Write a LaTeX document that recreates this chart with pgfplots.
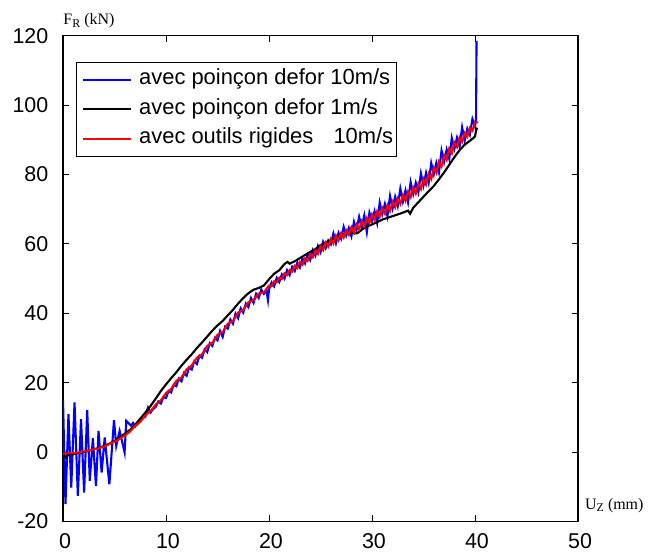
\documentclass[border=0pt]{standalone}
\usepackage{fontspec}
\setmainfont{Liberation Sans}
\newfontfamily\serifl{Liberation Serif}
\usepackage{pgfplots}
\pgfplotsset{compat=1.18}
\begin{document}
\begin{tikzpicture}
\begin{axis}[
  at={(0,0)}, anchor=south west,
  scale only axis, width=515bp, height=485.8bp,
  xmin=0, xmax=50, ymin=-20, ymax=120,
  xtick={0,10,20,30,40,50}, ytick={-20,0,20,40,60,80,100,120},
  xticklabels={0,10,20,30,40,50},
  yticklabels={-20,0,20,40,60,80,100,120},
  tick align=inside, major tick length=6bp, tick pos=both,
  tick style={black, line width=0.9bp},
  axis line style={black, line width=1.2bp},
  ticklabel style={font=\fontsize{21.5}{25}\selectfont, inner sep=0pt},
  yticklabel style={xshift=-14.5bp},
  xticklabel style={yshift=-11.8bp, xshift=2bp},
  legend image code/.code={\draw[#1] (2.3bp,0bp) -- (50.6bp,0bp); \path (0bp,0bp);},
  legend cell align=left,
  legend style={at={(0.0252,0.9465)}, anchor=north west, draw=black, line width=0.8bp,
    fill=white, inner xsep=3.4bp, inner ysep=3.8bp, row sep=1.4bp, column sep=6.7bp,
    font=\fontsize{22}{26}\selectfont,
    nodes={inner xsep=0pt, inner ysep=0pt, text height=19bp, text depth=9bp}},
]
\addplot[blue, line width=2.1bp] coordinates {
(0,15) (0.24,-15) (0.53,10.9) (0.8,-10.2) (1.12,14.3) (1.44,-12.6) (1.75,9.5) (2.05,-11.7) (2.35,12.1) (2.6,-8.3) (2.9,4.0) (3.2,-9.8) (3.45,6.1) (3.75,-5.9) (4.05,4.2) (4.5,-9.3) (4.95,9.2) (5.17,1.8) (5.5,6.1) (5.98,-0.1)
(6.14,9.0) (6.4,8.2) (6.6,7.6) (6.8,8.4) (7.0,7.4) (7.25,8.2) (7.5,9.6) (7.75,9.9) (8.0,10.2) (8.25,12.8) (8.5,11.4) (8.75,12.4) (9.0,13.0) (9.25,14.6) (9.5,14.0) (9.75,15.8) (10.0,15.6) (10.25,17.6) (10.5,17.2) (10.75,19.4) (11.0,19.0) (11.25,21.2) (11.5,20.4) (11.75,22.8) (12.0,22.0) (12.25,24.4) (12.5,23.8) (12.75,26.2) (13.0,25.4) (13.25,27.8) (13.5,27.2) (13.75,29.6) (14.0,28.8) (14.25,31.4) (14.5,30.6) (14.75,32.9) (15.0,32.2) (15.25,34.9) (15.5,33.2) (15.75,36.2) (16.0,35.6) (16.25,38.2) (16.5,37.0) (16.75,39.9) (17.0,38.6) (17.25,41.4) (17.5,40.2) (17.75,42.8) (18.0,41.8) (18.25,44.4) (18.5,43.0) (18.75,45.6) (19.0,44.4) (19.25,46.8) (19.5,45.6) (19.75,46.6) (19.9,43.8) (20.0,46.8) (20.25,48.9) (20.5,47.8) (20.75,50.2) (21.0,49.0) (21.25,51.2) (21.5,50.0) (21.75,52.4) (22.0,51.0) (22.25,53.4) (22.5,52.2) (22.75,54.6) (23.0,53.2) (23.25,55.8) (23.5,54.4) (23.75,56.9) (24.0,55.4) (24.25,58.2) (24.5,56.6) (24.75,59.4)
(25.0,57.6) (25.25,60.6) (25.5,58.8) (25.75,61.0) (26.0,59.9) (26.25,63.0) (26.5,60.2) (26.75,63.2) (27.0,61.5) (27.25,64.9) (27.5,62.4) (27.75,64.6) (28.0,62.2) (28.25,66.4) (28.5,64.0) (28.75,67.8) (29.0,64.8) (29.25,68.2) (29.5,63.4) (29.75,69.0) (30.0,66.6) (30.25,69.4) (30.5,66.0) (30.75,71.9) (31.0,68.6) (31.25,71.5) (31.5,68.0) (31.75,73.8) (32.0,70.2) (32.25,73.6) (32.5,70.9) (32.75,75.9) (33.0,72.2) (33.25,75.4) (33.5,72.0) (33.75,77.8) (34.0,74.4) (34.25,77.6) (34.5,74.9) (34.75,80.3) (35.0,76.8) (35.25,80.5) (35.5,77.6) (35.75,83.3) (36.0,80.1) (36.25,83.4) (36.5,80.6) (36.75,86.9) (37.0,83.6) (37.25,87.2) (37.5,84.5) (37.75,90.5) (38.0,87.4) (38.25,90.6) (38.5,88.0) (38.75,93.6) (39.0,89.8) (39.25,93.2) (39.5,91.4) (39.75,96.0) (40.0,93.8) (40.1,96.0) (40.15,118.5)
};
\addlegendentry{avec poinçon defor 10m/s}
\addplot[black, line width=2.1bp] coordinates {
(0,-0.5) (0.3,-1.6) (0.6,-0.4) (1,-0.6) (1.5,-0.3) (2,0) (2.5,0.4) (3,0.8) (3.5,1.2) (4,1.8) (4.5,2.4) (5,3.2) (5.5,4.2) (6,5.3) (6.5,6.4) (7,7.9) (7.5,9.6) (8,11.4) (8.5,13.3) (9,15.4) (9.5,17.6) (10,19.5) (10.5,21.3) (11,23.0) (11.5,24.9) (12,26.6) (12.5,28.2) (13,30.0) (13.5,31.6) (14,33.3) (14.5,35.0) (15,36.5) (15.5,37.8) (16,39.4) (16.5,41.0) (17,42.8) (17.5,44.4) (18,45.8) (18.5,46.8) (19,47.3) (19.5,48.0) (20,49.8) (20.5,51.4) (21,52.4) (21.5,54.2) (21.8,54.8) (22,54.3) (22.5,55.0) (23,55.9) (23.5,56.8) (24,57.7) (24.5,58.5) (25,59.6) (25.5,60.4) (26,61.1) (26.5,61.8) (27,62.5) (27.5,63.1) (28,63.4) (28.3,63.0) (28.6,63.1) (29,64.1) (29.5,65.0) (30,65.6) (30.5,66.3) (31,67.0) (31.5,67.5) (32,68.0) (32.5,68.5) (33,69.0) (33.5,69.6) (33.7,68.7) (34,70.4) (34.5,72.0) (35,73.6) (35.5,75.2) (36,76.7) (36.5,78.6) (37,80.6) (37.5,82.8) (38,85.0) (38.5,87.0) (39,88.6) (39.5,89.7) (39.8,90.4) (40,91.0) (40.1,92.5) (40.2,93.5)
};
\addlegendentry{avec poinçon defor 1m/s}
\addplot[red, line width=2.1bp] coordinates {
(0,-0.5) (0.5,-0.3) (1,-0.3) (1.5,-0.1) (2,0.2) (2.5,0.5) (3,0.8) (3.5,1.1) (4,1.6) (4.5,2.3) (5,3.0) (5.5,3.8) (6,4.8) (6.5,5.9) (7,7.5) (7.5,8.7) (8,10.6) (8.5,11.8) (9,13.7) (9.5,14.9) (10,17.0) (10.5,18.2) (11,20.5) (11.5,21.5) (12,23.8) (12.5,25.0) (13,27.2) (13.5,28.2) (14,30.6) (14.5,31.5) (15,33.8) (15.5,34.6) (16,37.0) (16.5,37.8) (17,40.2) (17.5,41.0) (18,43.2) (18.5,43.8) (19,45.7) (19.5,46.0) (20,48.0) (20.25,47.8) (20.5,49.2) (20.75,48.9) (21,50.3) (21.25,49.9) (21.5,51.5) (21.75,51.0) (22,52.5) (22.25,52.0) (22.5,53.7) (22.75,53.0) (23,54.8) (23.25,54.0) (23.5,55.8) (23.75,55.1) (24,57.0) (24.25,56.1) (24.5,58.1) (24.75,57.1) (25,59.3) (25.25,58.2) (25.5,60.4) (25.75,59.2) (26,61.4) (26.25,60.1) (26.5,62.4) (26.75,61.0) (27,63.1) (27.25,61.8) (27.5,63.9) (27.75,62.6) (28,64.8) (28.25,63.3) (28.5,65.6) (28.75,64.2) (29,66.5) (29.25,65.1) (29.5,67.5) (29.75,66.0) (30,68.5) (30.25,66.9) (30.5,69.4) (30.75,67.8) (31,70.3) (31.25,68.7) (31.5,71.2) (31.75,69.5) (32,72.1) (32.25,70.5) (32.5,73.1) (32.75,71.5) (33,74.1) (33.25,72.4) (33.5,75.1) (33.75,73.5) (34,76.2) (34.25,74.5) (34.5,77.4) (34.75,75.8) (35,78.7) (35.25,77.1) (35.5,80.2) (35.75,78.7) (36,81.9) (36.25,80.4) (36.5,83.7) (36.75,82.3) (37,85.6) (37.25,84.2) (37.5,87.5) (37.75,86.1) (38,89.2) (38.25,87.9) (38.5,90.7) (38.75,89.4) (39,92.0) (39.25,90.9) (39.5,93.4) (39.75,92.6) (40,95.0) (40.3,95.0)
};
\addlegendentry{avec outils rigides\hspace{0.92em}10m/s}
\end{axis}
\node[anchor=base west, inner sep=0pt, font=\serifl\fontsize{16}{19}\selectfont] at (0.3bp,496.5bp) {F\raisebox{-0.3ex}{\fontsize{12}{14}\selectfont R} (kN)};
\node[anchor=base west, inner sep=0pt, font=\serifl\fontsize{16}{19}\selectfont] at (522bp,12.5bp) {U\raisebox{-0.3ex}{\fontsize{12}{14}\selectfont Z} (mm)};
\pgfresetboundingbox
\useasboundingbox (-63bp,-31.5bp) rectangle (586bp,521.5bp);
\end{tikzpicture}
\end{document}
